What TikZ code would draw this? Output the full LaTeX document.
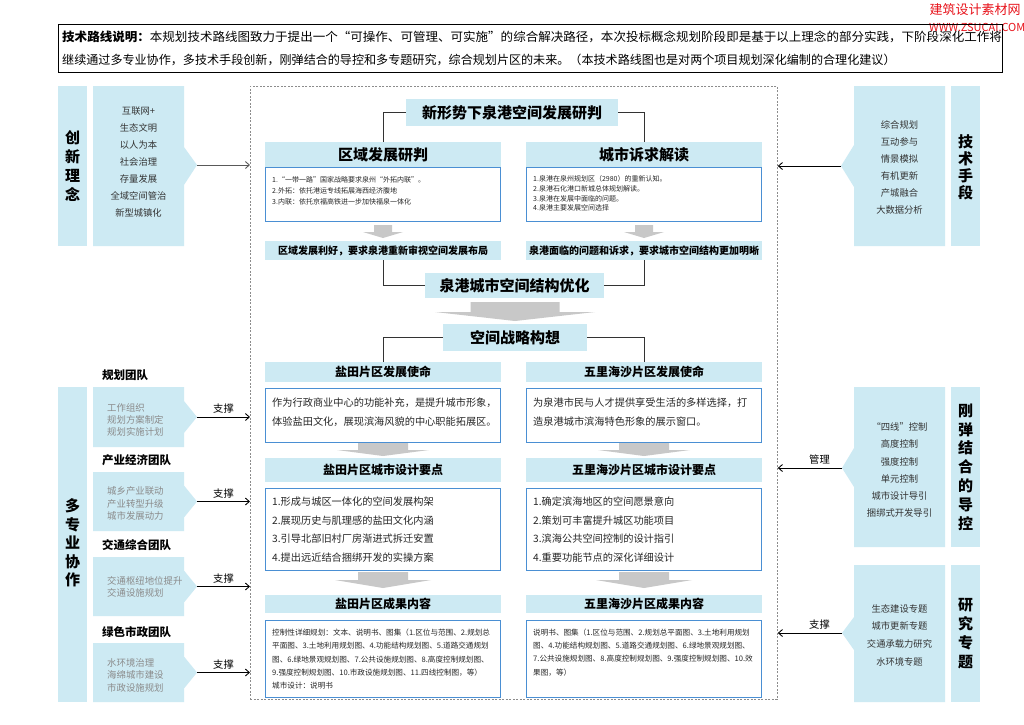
\documentclass[tikz,border=0pt]{standalone}
\usepackage{fontspec}
\setmainfont{Noto Sans CJK SC}
\usetikzlibrary{arrows.meta}
\definecolor{lb}{HTML}{CDEAF3}
\definecolor{bb}{HTML}{4A8FD3}
\definecolor{ga}{HTML}{C8C8C8}
\definecolor{tg}{HTML}{8A8A8A}
\definecolor{wm}{HTML}{E8131B}
\newcommand\garrow[6]{% cx, ytop, body half, head half, ymid, ytip
  \fill[ga] ({#1-#3},#2) -- ({#1+#3},#2) -- ({#1+#3},#5) -- ({#1+#4},#5) -- (#1,#6) -- ({#1-#4},#5) -- ({#1-#3},#5) -- cycle;}
\begin{document}
\begin{tikzpicture}[x=1pt,y=-1pt,
  hdr/.style={fill=lb, inner sep=0pt, font=\bfseries\fontsize{15}{18}\selectfont},
  hdrtwo/.style={fill=lb, inner sep=0pt, minimum width=236pt, font=\bfseries\fontsize{12}{14}\selectfont},
  subbox/.style={fill=lb, inner sep=0pt, minimum width=236pt, minimum height=19pt, font=\bfseries\fontsize{10}{12}\selectfont},
  cbox/.style={draw=bb, line width=1pt, fill=white, inner sep=0pt, minimum width=235pt},
  tinytxt/.style={inner sep=0pt, anchor=west, text=black!85, font=\fontsize{7}{8}\selectfont},
  restxt/.style={inner sep=0pt, anchor=west, text=black!85, font=\fontsize{7.6}{9}\selectfont},
  midtxt/.style={inner sep=0pt, anchor=west, text=black!85, font=\fontsize{10.2}{12}\selectfont},
  sideitem/.style={inner sep=0pt, text=black!80, font=\fontsize{9.3}{11}\selectfont},
  teamitem/.style={inner sep=0pt, anchor=west, text=tg, font=\fontsize{9.4}{11}\selectfont},
  teamlbl/.style={inner sep=0pt, anchor=west, font=\bfseries\fontsize{11.5}{13}\selectfont},
  vlbl/.style={inner sep=0pt, align=center, font=\bfseries\fontsize{15}{19}\selectfont},
  arrlbl/.style={inner sep=0pt, font=\fontsize{10.3}{12}\selectfont},
  link/.style={draw=black!80, line width=0.8pt},
  inarrow/.style={draw=black!65, line width=0.9pt, -{Straight Barb[length=4pt,width=7pt]}},
  outarrow/.style={draw=black, line width=0.9pt, -{Straight Barb[length=4pt,width=7pt]}}
]
\useasboundingbox (0,0) rectangle (1024,724);
\clip (0,0) rectangle (1024,724);
\fill[white] (0,0) rectangle (1024,724);

% watermark
\node[inner sep=0pt, text=wm, font=\fontsize{13}{15}\selectfont] (wm1) at (975,10) {建筑设计素材网};
\node[inner sep=0pt, anchor=west, text=wm, font=\fontsize{11}{13}\selectfont] (wm2) at (929,27) {WWW.ZSUCAI.COM};

% banner
\node[draw=black, line width=1.2pt, minimum width=944pt, minimum height=48pt, inner sep=0pt, anchor=north west] (banner) at (58,24) {};
\node[inner sep=0pt, anchor=west, xscale=1.027, font=\fontsize{12.2}{14}\selectfont] (bl1) at (62,37) {{\bfseries 技术路线说明：}本规划技术路线图致力于提出一个“可操作、可管理、可实施”的综合解决路径，本次投标概念规划阶段即是基于以上理念的部分实践，下阶段深化工作将};
\node[inner sep=0pt, anchor=west, xscale=0.99, font=\fontsize{12.2}{14}\selectfont] (bl2) at (62,60) {继续通过多专业协作，多技术手段创新，刚弹结合的导控和多专题研究，综合规划片区的未来。（本技术路线图也是对两个项目规划深化编制的合理化建议）};

% central dashed frame
\node[draw=black!45, dash pattern=on 2pt off 1.5pt, line width=0.8pt, minimum width=527pt, minimum height=613pt, inner sep=0pt, anchor=north west] (frame) at (250,86) {};

% ---------- left: 创新理念 ----------
\fill[lb] (58,86) rectangle (87,246);
\node[vlbl] (cxl) at (72.5,166.5) {创\\新\\理\\念};
\fill[lb] (93,86) -- (184,86) -- (184,147) -- (197,165) -- (184,185) -- (184,246) -- (93,246) -- cycle;
\coordinate (cxtip) at (197,165);
\foreach \t [count=\i] in {互联网+,生态文明,以人为本,社会治理,存量发展,全域空间管治,新型城镇化}
  \node[sideitem] (cx\i) at (138.5,{94+17*\i}) {\t};
\draw[inarrow] (cxtip) -- (cxtip -| frame.west);

% ---------- right: 技术手段 ----------
\fill[lb] (951,86) rectangle (980,246);
\node[vlbl, font=\bfseries\fontsize{15}{17}\selectfont] (jsl) at (965.5,167) {技\\术\\手\\段};
\fill[lb] (854,86) -- (945,86) -- (945,246) -- (854,246) -- (854,187) -- (841,166) -- (854,145) -- cycle;
\coordinate (jstip) at (841,166);
\foreach \t [count=\i] in {综合规划,互动参与,情景模拟,有机更新,产城融合,大数据分析}
  \node[sideitem] (js\i) at (899.5,{108+17*\i}) {\t};
\draw[outarrow] (jstip) -- (jstip -| frame.east);

% ---------- left: 多专业协作 ----------
\fill[lb] (58,387) rectangle (87,702);
\node[vlbl, font=\bfseries\fontsize{15}{18.5}\selectfont] (dzl) at (72.5,543) {多\\专\\业\\协\\作};
% team boxes
\foreach \yt/\yb/\n in {387/447/1,472/531/2,557/616/3,643/702/4}{
  \pgfmathsetmacro\yc{(\yt+\yb)/2}
  \fill[lb] (93,\yt) -- (184,\yt) -- (184,{\yc-16}) -- (197,\yc) -- (184,{\yc+16}) -- (184,\yb) -- (93,\yb) -- cycle;
  \coordinate (tip\n) at (197,\yc);
}
\node[teamlbl] (tl1) at (102,375) {规划团队};
\node[teamlbl] (tl2) at (102,460) {产业经济团队};
\node[teamlbl] (tl3) at (102,545) {交通综合团队};
\node[teamlbl] (tl4) at (102,632) {绿色市政团队};
\node[teamitem] (ta1) at (107,408) {工作组织};
\node[teamitem] (ta2) at (107,420) {规划方案制定};
\node[teamitem] (ta3) at (107,432) {规划实施计划};
\node[teamitem] (tb1) at (107,491) {城乡产业联动};
\node[teamitem] (tb2) at (107,504) {产业转型升级};
\node[teamitem] (tb3) at (107,516) {城市发展动力};
\node[teamitem] (tc1) at (107,581) {交通枢纽地位提升};
\node[teamitem] (tc2) at (107,593) {交通设施规划};
\node[teamitem] (td1) at (107,663) {水环境治理};
\node[teamitem] (td2) at (107,675) {海绵城市建设};
\node[teamitem] (td3) at (107,688) {市政设施规划};
\foreach \n in {1,2,3,4}
  \draw[outarrow] (tip\n) -- (tip\n -| frame.west) node[arrlbl, midway, above=3pt] (zc\n) {支撑};

% ---------- right: 刚弹结合的导控 ----------
\fill[lb] (951,387) rectangle (980,547);
\node[vlbl, font=\bfseries\fontsize{15}{18.8}\selectfont] (gtl) at (965.5,467) {刚\\弹\\结\\合\\的\\导\\控};
\fill[lb] (854,387) -- (945,387) -- (945,547) -- (854,547) -- (854,487) -- (842,468) -- (854,448) -- cycle;
\coordinate (gttip) at (842,468);
\foreach \t [count=\i] in {“四线”控制,高度控制,强度控制,单元控制,城市设计导引,捆绑式开发导引}
  \node[sideitem] (gt\i) at (899.5,{410+17.2*\i}) {\t};
\draw[outarrow] (gttip) -- (gttip -| frame.east) node[arrlbl, pos=0.35, above=3pt] (gl) {管理};

% ---------- right: 研究专题 ----------
\fill[lb] (951,565) rectangle (980,702);
\node[vlbl, font=\bfseries\fontsize{15}{19}\selectfont] (yjl) at (965.5,633.5) {研\\究\\专\\题};
\fill[lb] (854,565) -- (945,565) -- (945,702) -- (854,702) -- (854,650) -- (842,633) -- (854,617) -- cycle;
\coordinate (yjtip) at (842,633);
\foreach \t [count=\i] in {生态建设专题,城市更新专题,交通承载力研究,水环境专题}
  \node[sideitem] (yj\i) at (899.5,{591+17.7*\i}) {\t};
\draw[outarrow] (yjtip) -- (yjtip -| frame.east) node[arrlbl, pos=0.35, above=3pt] (yl) {支撑};

% ---------- centre ----------
\node[hdr, minimum width=212pt, minimum height=27pt] (T0) at (512,112.5) {新形势下泉港空间发展研判};
\node[hdr, minimum width=236pt, minimum height=25pt] (RAh) at (383,154.5) {区域发展研判};
\node[cbox, minimum height=54pt] (RAc) at (383,194.5) {};
\node[hdr, minimum width=236pt, minimum height=25pt] (CSh) at (644,154.5) {城市诉求解读};
\node[cbox, minimum height=54pt] (CSc) at (644,194.5) {};
\draw[link] (T0.west) -| (RAh.north);
\draw[link] (T0.east) -| (CSh.north);

\foreach \t [count=\i] in {{1.“一带一路”国家战略要求泉州“外拓内联”。},{2.外拓：依托港运专线拓展海西经济腹地},{3.内联：依托京福高铁进一步加快福泉一体化}}
  \node[tinytxt] (ra\i) at (272,{169+11*\i}) {\t};
\foreach \t [count=\i] in {{1.泉港在泉州规划区（2980）的重新认知。},{2.泉港石化港口新城总体规划解读。},{3.泉港在发展中面临的问题。},{4.泉港主要发展空间选择}}
  \node[tinytxt] (cs\i) at (533,{169.5+9.7*\i}) {\t};

\garrow{383}{225}{9}{20}{232}{238}
\garrow{644}{225}{9}{20}{232}{238}

\node[subbox] (R1) at (383,250.5) {区域发展利好，要求泉港重新审视空间发展布局};
\node[subbox] (R2) at (644,250.5) {泉港面临的问题和诉求，要求城市空间结构更加明晰};
\node[hdr, minimum width=179pt, minimum height=25pt] (OPT) at (514.5,285.5) {泉港城市空间结构优化};
\draw[link] (R1.south) |- (OPT.west);
\draw[link] (R2.south) |- (OPT.east);

\garrow{515}{302}{44.5}{80}{312}{321}

\node[hdr, minimum width=144pt, minimum height=27pt] (STR) at (515,337.5) {空间战略构想};

\node[hdrtwo, minimum height=20pt] (M1h) at (383,372) {盐田片区发展使命};
\node[hdrtwo, minimum height=20pt] (M2h) at (644,372) {五里海沙片区发展使命};
\draw[link] (STR.west) -| (M1h.north);
\draw[link] (STR.east) -| (M2h.north);
\node[cbox, minimum height=54pt] (M1c) at (383,415) {};
\node[cbox, minimum height=54pt] (M2c) at (644,415) {};
\node[midtxt] (m11) at (272,403) {作为行政商业中心的功能补充，是提升城市形象，};
\node[midtxt] (m12) at (272,422) {体验盐田文化，展现滨海风貌的中心职能拓展区。};
\node[midtxt] (m21) at (533,403) {为泉港市民与人才提供享受生活的多样选择，打};
\node[midtxt] (m22) at (533,422) {造泉港城市滨海特色形象的展示窗口。};

\garrow{383}{443}{25}{46}{450}{456}
\garrow{644}{443}{25}{46}{450}{456}

\node[hdrtwo, minimum height=24pt] (D1h) at (383,470) {盐田片区城市设计要点};
\node[hdrtwo, minimum height=24pt] (D2h) at (644,470) {五里海沙片区城市设计要点};
\node[cbox, minimum height=82pt] (D1c) at (383,529) {};
\node[cbox, minimum height=82pt] (D2c) at (644,529) {};
\foreach \t [count=\i] in {1.形成与城区一体化的空间发展构架,2.展现历史与肌理感的盐田文化内涵,3.引导北部旧村厂房渐进式拆迁安置,4.提出远近结合捆绑开发的实操方案}
  \node[midtxt] (d1\i) at (272,{483.5+18.5*\i}) {\t};
\foreach \t [count=\i] in {1.确定滨海地区的空间愿景意向,2.策划可丰富提升城区功能项目,3.滨海公共空间控制的设计指引,4.重要功能节点的深化详细设计}
  \node[midtxt] (d2\i) at (533,{483.5+18.5*\i}) {\t};

\garrow{383}{572}{25}{48}{580}{588}
\garrow{644}{572}{25}{48}{580}{588}

\node[hdrtwo, minimum height=18pt] (P1h) at (383,604) {盐田片区成果内容};
\node[hdrtwo, minimum height=18pt] (P2h) at (644,604) {五里海沙片区成果内容};
\node[cbox, minimum height=77pt] (P1c) at (383,658.5) {};
\node[cbox, minimum height=77pt] (P2c) at (644,658.5) {};
\foreach \t [count=\i] in {{控制性详细规划：文本、说明书、图集（1.区位与范围、2.规划总},{平面图、3.土地利用规划图、4.功能结构规划图、5.道路交通规划},{图、6.绿地景观规划图、7.公共设施规划图、8.高度控制规划图、},{9.强度控制规划图、10.市政设施规划图、11.四线控制图，等）},{城市设计：说明书}}
  \node[restxt] (p1\i) at (272,{619.5+13.2*\i}) {\t};
\foreach \t [count=\i] in {{说明书、图集（1.区位与范围、2.规划总平面图、3.土地利用规划},{图、4.功能结构规划图、5.道路交通规划图、6.绿地景观规划图、},{7.公共设施规划图、8.高度控制规划图、9.强度控制规划图、10.效},{果图，等）}}
  \node[restxt] (p2\i) at (533,{619.5+13.2*\i}) {\t};
\end{tikzpicture}
\end{document}
